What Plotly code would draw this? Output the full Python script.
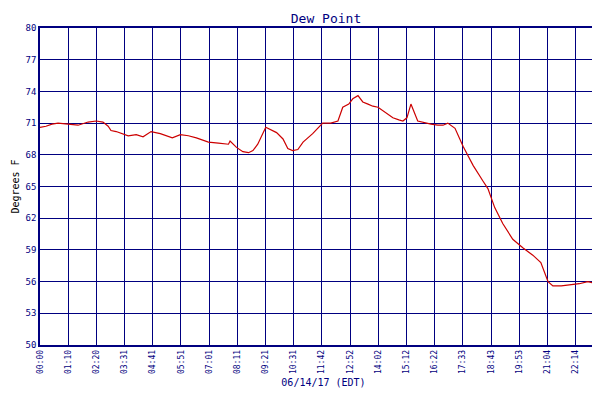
import plotly.graph_objects as go

minutes = [0,15,30,45,70,95,120,140,157,170,177,190,220,240,257,277,300,330,350,370,390,420,445,470,474,490,
           506,520,531,543,563,575,590,606,618,630,643,656,680,705,725,743,755,770,780,793,805,818,830,843,860,
           880,895,905,915,925,942,960,975,992,1005,1017,1035,1055,1080,1105,1117,1134,1154,1179,1204,1229,1249,
           1267,1279,1300,1320,1345,1366,1390,1405,1414]
dew = [70.6,70.7,70.9,71.0,70.9,70.8,71.1,71.2,71.1,70.7,70.3,70.2,69.8,69.9,69.7,70.2,70.0,69.6,69.9,69.8,
       69.6,69.2,69.1,69.0,69.3,68.7,68.3,68.2,68.4,69.0,70.6,70.4,70.1,69.5,68.6,68.4,68.5,69.2,70.0,71.0,
       71.0,71.2,72.5,72.8,73.3,73.6,73.0,72.8,72.6,72.5,72.0,71.5,71.3,71.2,71.5,72.8,71.2,71.0,70.9,70.8,
       70.8,71.0,70.5,68.8,67.0,65.5,64.8,63.0,61.5,60.0,59.2,58.5,57.8,56.0,55.6,55.6,55.7,55.8,56.0,55.8,
       55.7,55.6]
tick_labels = ["00:00","01:10","02:20","03:31","04:41","05:51","07:01","08:11","09:21","10:31","11:42",
               "12:52","14:02","15:12","16:22","17:33","18:43","19:53","21:04","22:14","23:24"]
tick_step = 70.3
y_ticks = [50,53,56,59,62,65,68,71,74,77,80]

navy = "#000080"
font = dict(family="DejaVu Sans Mono", size=10, color=navy)
fig = go.Figure(go.Scatter(x=minutes, y=dew, mode="lines", line=dict(color="#cc0000", width=1.2),
                           name="Dew Point", showlegend=True))
fig.update_layout(
    width=600, height=400, margin=dict(l=32, r=1, t=20, b=63, autoexpand=False),
    paper_bgcolor="white", plot_bgcolor="white", font=font,
    title=dict(text="Dew Point", x=0.53, y=0.985, xanchor="center", yanchor="top", font=dict(size=13, color=navy, family="DejaVu Sans Mono")),
    legend=dict(orientation="h", x=0.5, xanchor="center", y=-0.23, yanchor="top", font=dict(size=9, color=navy)),
)
fig.update_xaxes(range=[0, 1414], tickvals=[i*tick_step for i in range(len(tick_labels))], ticktext=tick_labels,
                 tickangle=-90, showgrid=True, gridcolor=navy, gridwidth=1, showline=True, linecolor=navy, mirror=True,
                 linewidth=1.5, tickfont=dict(size=8, color=navy), zeroline=False, automargin=False,
                 title=dict(text="06/14/17 (EDT)", font=dict(size=10, color=navy), standoff=6))
fig.update_yaxes(range=[50, 80], tickvals=y_ticks, showgrid=True, gridcolor=navy, gridwidth=1, showline=True,
                 linecolor=navy, mirror=True, linewidth=1.5, zeroline=False, tickfont=dict(size=9, color=navy),
                 automargin=False,
                 title=dict(text="Degrees F", font=dict(size=10, color="black"), standoff=4))
fig.write_html("out.html")
